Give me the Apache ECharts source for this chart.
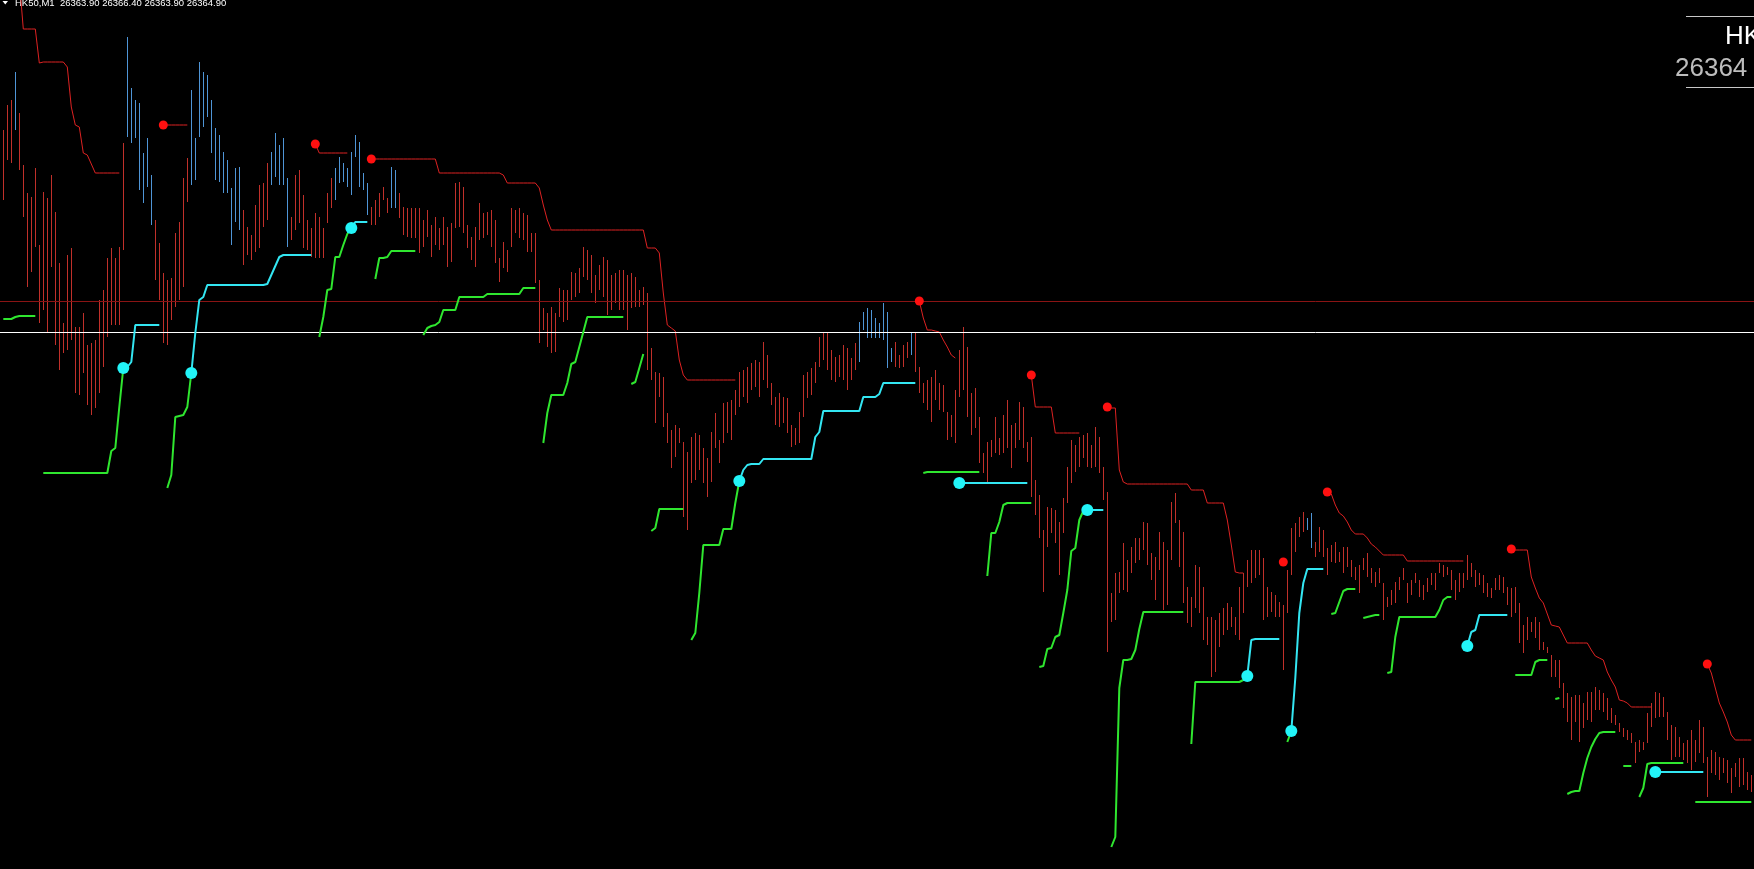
<!DOCTYPE html>
<html>
<head>
<meta charset="utf-8">
<script src="https://cdn.jsdelivr.net/npm/echarts@6/dist/echarts.min.js"></script>
<style>
html,body{margin:0;padding:0;background:#000;}
#c{width:1754px;height:869px;}
</style>
</head>
<body>
<div id="c"></div>
<script>
// ---- HK50, M1 bars (high / low) ----
const barHigh = [
26387.0,26389.5,26390.0,26392.8,26388.7,26383.5,26380.7,26380.3,26383.2,26375.5,
26380.8,26380.2,26382.5,26378.8,26373.7,26367.7,26374.5,26375.2,26367.3,26367.3,
26368.7,26365.5,26365.7,26366.0,26370.0,26371.0,26374.2,26375.2,26374.2,26375.3,
26385.7,26396.3,26391.2,26390.0,26389.7,26384.7,26386.2,26382.5,26378.0,26375.7,
26372.7,26372.0,26372.2,26376.7,26377.8,26382.2,26384.2,26391.0,26386.2,26393.8,
26392.8,26392.5,26390.0,26387.2,26386.5,26384.8,26384.0,26381.2,26383.2,26383.3,
26379.0,26377.3,26376.5,26379.5,26381.5,26381.7,26383.7,26384.8,26386.7,26385.5,
26386.2,26382.2,26378.3,26382.5,26383.0,26380.5,26378.0,26377.2,26378.7,26378.3,
26377.2,26380.7,26382.2,26383.2,26384.3,26383.7,26383.2,26384.8,26386.5,26385.8,
26382.7,26381.7,26379.3,26380.0,26380.7,26381.3,26380.2,26383.3,26383.0,26380.7,
26379.3,26379.2,26379.2,26379.2,26379.2,26378.0,26379.0,26377.5,26378.3,26377.2,
26378.3,26377.3,26377.7,26381.7,26381.8,26381.3,26377.5,26376.3,26377.3,26379.7,
26378.7,26378.8,26379.0,26378.0,26374.2,26375.8,26375.0,26379.2,26379.0,26379.2,
26378.7,26378.5,26376.7,26376.7,26372.0,26369.2,26368.7,26369.3,26368.7,26371.2,
26371.0,26371.0,26372.8,26372.7,26373.2,26375.3,26375.0,26374.5,26372.5,26373.5,
26374.3,26374.0,26372.5,26372.7,26373.0,26373.0,26372.5,26372.7,26372.3,26371.0,
26371.3,26370.7,26365.2,26362.8,26362.7,26362.3,26358.7,26357.0,26357.5,26357.2,
26355.8,26354.8,26356.3,26356.7,26356.5,26355.2,26354.2,26356.8,26358.7,26356.0,
26359.7,26359.8,26360.0,26361.0,26362.8,26363.0,26363.3,26363.7,26364.0,26363.8,
26365.8,26364.5,26361.7,26360.3,26360.7,26360.3,26360.2,26357.5,26357.2,26358.8,
26362.5,26362.8,26363.2,26363.8,26366.3,26366.7,26366.8,26365.0,26364.3,26364.5,
26365.5,26365.2,26364.2,26365.7,26367.8,26368.8,26369.2,26369.0,26368.2,26367.7,
26369.7,26368.8,26365.2,26365.8,26364.5,26365.5,26365.8,26366.7,26366.7,26363.3,
26361.7,26362.0,26362.3,26363.0,26361.7,26361.5,26358.8,26358.5,26361.0,26365.0,
26367.3,26365.3,26360.7,26361.2,26358.3,26354.7,26355.8,26356.0,26358.3,26356.2,
26358.5,26360.0,26357.5,26357.7,26359.8,26359.3,26355.8,26356.3,26352.0,26350.5,
26347.0,26349.3,26349.2,26349.0,26347.8,26350.2,26353.3,26356.0,26355.5,26356.3,
26356.5,26356.7,26355.5,26357.3,26356.3,26353.3,26350.8,26340.7,26342.7,26342.8,
26345.7,26344.0,26345.3,26346.2,26346.2,26347.8,26347.7,26344.7,26344.3,26346.8,
26345.8,26345.0,26349.8,26350.7,26348.0,26346.8,26341.3,26340.3,26343.5,26343.3,
26341.3,26338.3,26338.3,26338.0,26338.7,26339.2,26339.7,26339.3,26338.3,26341.3,
26342.7,26344.0,26345.0,26345.0,26345.0,26344.2,26341.3,26340.8,26340.5,26339.8,
26339.5,26343.0,26347.2,26347.7,26348.3,26348.8,26348.2,26348.7,26345.8,26347.3,
26347.0,26345.2,26345.5,26345.8,26344.8,26345.3,26345.3,26344.0,26343.3,26343.5,
26344.2,26344.7,26343.2,26342.8,26343.2,26341.7,26340.3,26341.0,26341.8,26342.3,
26343.2,26341.7,26342.0,26342.7,26342.0,26341.5,26342.2,26342.7,26342.7,26343.7,
26343.5,26343.3,26343.0,26342.0,26342.7,26342.7,26344.5,26343.7,26343.0,26342.7,
26342.5,26341.7,26341.2,26342.2,26342.5,26342.3,26341.3,26341.2,26341.3,26339.7,
26337.5,26338.3,26337.8,26338.3,26337.8,26335.8,26335.3,26334.5,26334.0,26334.0,
26331.7,26330.7,26330.3,26330.5,26330.5,26329.7,26330.8,26330.8,26331.3,26331.0,
26330.7,26330.2,26329.2,26328.5,26327.7,26327.2,26327.0,26326.7,26325.8,26326.0,
26325.8,26328.7,26329.7,26330.8,26330.7,26330.3,26328.8,26327.5,26327.3,26326.3,
26325.7,26326.0,26327.0,26326.0,26328.0,26327.3,26324.3,26325.0,26324.8,26324.3,
26324.2,26324.0,26323.2,26323.7,26324.2,26324.2,26322.8,26322.5
];
const barLow = [
26380.0,26384.0,26383.7,26387.0,26383.0,26378.3,26371.3,26372.8,26375.3,26367.7,
26369.0,26366.7,26373.3,26365.5,26363.0,26364.7,26365.0,26366.0,26360.7,26360.5,
26362.7,26359.5,26358.5,26359.2,26360.7,26363.3,26366.3,26367.5,26367.5,26367.5,
26375.0,26386.3,26385.7,26386.2,26381.0,26379.7,26381.3,26377.5,26372.0,26370.0,
26365.7,26365.5,26368.0,26369.3,26370.0,26371.3,26379.8,26381.5,26382.0,26386.3,
26387.3,26388.3,26384.7,26382.0,26381.8,26380.7,26380.7,26375.5,26377.8,26377.0,
26373.5,26374.5,26374.0,26374.8,26375.2,26377.3,26378.0,26381.5,26382.3,26381.5,
26381.5,26375.3,26376.0,26377.0,26377.7,26375.2,26375.0,26374.3,26374.2,26374.2,
26374.2,26377.7,26379.2,26380.0,26381.7,26381.8,26381.3,26380.5,26384.3,26381.3,
26381.0,26378.5,26377.5,26377.5,26378.3,26380.0,26378.7,26379.2,26379.2,26378.2,
26376.5,26376.3,26376.2,26376.2,26374.7,26375.3,26376.3,26374.3,26375.5,26375.0,
26375.5,26373.3,26373.8,26377.2,26377.3,26376.7,26375.2,26374.0,26373.3,26376.0,
26376.2,26376.5,26375.3,26373.7,26371.8,26373.2,26372.8,26375.3,26376.7,26376.2,
26376.0,26374.8,26374.8,26371.7,26365.7,26367.0,26365.3,26364.7,26364.8,26368.3,
26367.8,26368.0,26370.0,26370.3,26370.7,26372.3,26372.0,26370.7,26369.7,26371.0,
26370.3,26368.5,26369.0,26369.7,26369.0,26369.0,26367.0,26369.2,26369.3,26369.3,
26369.5,26363.0,26362.0,26357.7,26360.3,26357.3,26355.7,26353.2,26354.3,26355.7,
26348.3,26347.0,26351.7,26352.0,26353.0,26351.7,26350.3,26351.8,26355.2,26353.7,
26355.7,26356.7,26356.0,26358.5,26359.3,26360.3,26359.7,26361.0,26361.3,26360.3,
26362.0,26361.2,26359.5,26357.5,26357.3,26357.7,26356.7,26355.3,26355.5,26355.7,
26358.3,26360.2,26360.5,26361.7,26363.3,26364.0,26363.0,26362.0,26361.8,26362.3,
26362.0,26361.0,26362.0,26363.0,26363.8,26367.0,26366.2,26366.2,26366.2,26366.2,
26366.0,26363.2,26363.8,26363.3,26363.2,26363.3,26364.2,26364.5,26362.8,26360.7,
26359.7,26359.0,26357.8,26360.0,26359.0,26358.8,26356.0,26356.3,26355.7,26360.3,
26361.0,26358.3,26356.5,26357.2,26353.7,26352.7,26351.8,26354.3,26354.7,26354.5,
26354.7,26355.2,26353.2,26355.2,26356.0,26355.2,26353.8,26350.3,26348.5,26346.2,
26340.8,26345.3,26346.7,26345.7,26342.5,26346.7,26349.7,26351.7,26352.8,26353.3,
26354.2,26353.3,26353.2,26353.3,26352.7,26350.0,26334.8,26337.8,26338.0,26340.7,
26341.0,26340.8,26342.7,26343.7,26344.0,26345.0,26343.5,26342.0,26340.0,26343.0,
26339.0,26339.5,26344.0,26347.7,26343.3,26339.7,26337.7,26337.3,26339.2,26338.7,
26336.0,26335.5,26332.3,26332.8,26335.3,26336.5,26337.0,26337.3,26336.5,26336.0,
26338.7,26341.3,26341.7,26342.2,26342.5,26338.0,26338.3,26338.8,26338.3,26338.3,
26333.0,26338.7,26342.5,26344.8,26346.3,26346.8,26347.0,26345.2,26344.3,26344.8,
26344.3,26342.5,26343.8,26343.7,26343.8,26342.7,26343.3,26342.3,26342.0,26340.7,
26343.0,26342.3,26341.7,26341.3,26341.7,26338.0,26339.3,26339.5,26339.7,26341.0,
26342.0,26339.7,26340.5,26341.7,26340.3,26340.0,26340.8,26341.5,26341.0,26342.7,
26342.3,26342.5,26341.0,26340.0,26340.8,26341.2,26342.0,26342.3,26341.3,26341.5,
26340.7,26340.3,26340.2,26341.0,26341.0,26340.7,26339.5,26338.3,26338.7,26335.7,
26334.7,26336.0,26336.8,26336.2,26335.0,26335.0,26334.7,26332.3,26332.3,26331.2,
26329.2,26327.8,26326.0,26327.8,26325.8,26327.2,26328.0,26327.8,26329.0,26329.0,
26328.8,26328.0,26327.7,26327.5,26326.8,26326.3,26326.0,26325.7,26323.7,26324.8,
26325.0,26325.7,26327.3,26328.2,26328.3,26328.3,26326.0,26324.0,26324.3,26324.3,
26324.0,26323.7,26323.0,26323.8,26324.7,26323.7,26320.3,26322.7,26322.5,26322.0,
26322.7,26321.7,26320.7,26322.3,26321.3,26321.5,26321.0,26320.8
];
// indices of rising (blue) bars
const upBars = [3,31,32,33,34,35,36,37,47,48,49,50,51,52,53,54,55,56,57,58,59,
67,68,69,70,71,83,84,85,86,87,88,89,90,91,97,98,214,215,216,217,218,219,220,221,222,227,326,327];

// trailing stop lines: [first bar index, values...]
const redStop = [
[4,26402.0,26397.1,26397.1,26397.1,26397.1,26393.7,26393.8,26393.8,26393.8,26393.8,26393.8,26393.8,26393.3,26389.3,26387.5,26387.3,26384.7,26384.5,26383.6,26382.7,26382.7,26382.7,26382.7,26382.7,26382.7,26382.7],
[40,26387.5,26387.5,26387.5,26387.5,26387.5,26387.5,26387.5],
[78,26385.6,26384.7,26384.7,26384.7,26384.7,26384.7,26384.7,26384.7,26384.7],
[92,26384.1,26384.1,26384.1,26384.1,26384.1,26384.1,26384.1,26384.1,26384.1,26384.1,26384.1,26384.1,26384.1,26384.1,26384.1,26384.1,26384.1,
 26382.7,26382.7,26382.7,26382.7,26382.7,26382.7,26382.7,26382.7,26382.7,26382.7,26382.7,26382.7,26382.7,26382.7,26382.7,26382.7,
 26382.5,26381.7,26381.7,26381.7,26381.7,26381.7,26381.7,26381.7,26381.7,26381.2,26379.5,26378.0,
 26377.0,26377.0,26377.0,26377.0,26377.0,26377.0,26377.0,26377.0,26377.0,26377.0,26377.0,26377.0,
 26377.0,26377.0,26377.0,26377.0,26377.0,26377.0,26377.0,26377.0,26377.0,26377.0,26377.0,26377.0,
 26375.2,26375.2,26375.2,26374.7,26370.7,26367.5,26367.2,26366.9,26364.0,26362.5,
 26362.0,26362.0,26362.0,26362.0,26362.0,26362.0,26362.0,26362.0,26362.0,26362.0,26362.0,26362.0,26362.0],
[229,26369.9,26368.2,26367.0,26367.0,26366.9,26366.8,26366.0,26365.3,26364.5,26364.2],
[257,26362.5,26359.3,26359.3,26359.3,26359.3,26359.3,26356.7,26356.7,26356.7,26356.7,26356.7,26356.7,26356.7],
[276,26359.3,26359.2,26359.2,26353.0,26351.8,
 26351.6,26351.6,26351.6,26351.6,26351.6,26351.6,26351.6,26351.6,26351.6,26351.6,26351.6,26351.6,26351.6,26351.6,26351.6,26351.6,
 26351.0,26351.0,26351.0,26351.0,26349.7,26349.7,26349.7,26349.7,26349.7,26348.0,26345.5,26342.8,26342.7,26342.7],
[331,26350.8,26350.6,26349.5,26348.7,26348.4,26347.8,26347.0,26346.6,26346.6,26346.6,26346.2,26345.6,26345.3,26344.9,
 26344.5,26344.5,26344.5,26344.5,26344.5,26344.5,
 26343.9,26343.9,26343.9,26343.9,26343.9,26343.9,26343.9,26343.9,26343.9,26343.9,26343.9,26343.9,26343.9,26343.9,26343.9],
[377,26345.1,26345.0,26345.0,26345.0,26345.0,26342.3,26341.2,26340.2,26339.7,26338.6,26337.5,26337.4,26337.3,26336.5,
 26335.7,26335.7,26335.7,26335.7,26335.7,26335.7,26335.0,26334.4,26334.2,26334.0,26332.8,26332.0,26331.3,26330.0,26329.9,26329.7,
 26329.3,26329.3,26329.3,26329.3,26329.3,26329.3],
[426,26333.6,26332.7,26331.2,26329.7,26328.8,26327.8,26326.5,26326.0,26326.0,26326.0,26326.0,26326.0]
];
const redDots = [[40,26387.5],[78,26385.6],[92,26384.1],[229,26369.9],[257,26362.5],[276,26359.3],[320,26343.8],[331,26350.8],[377,26345.1],[426,26333.6]];

const cyanLine = [
[30,26363.2,26363.3,26363.8,26367.5,26367.5,26367.5,26367.5,26367.5,26367.5,26367.5],
[47,26362.7,26366.7,26370.0,26370.3,26371.5,26371.5,26371.5,26371.5,26371.5,26371.5,26371.5,26371.5,26371.5,26371.5,26371.5,26371.5,26371.5,26371.5,26371.5,
 26371.6,26372.5,26373.4,26374.3,26374.5,26374.5,26374.5,26374.5,26374.5,26374.5,26374.5,26374.5],
[87,26377.2,26377.8,26377.8,26377.8,26377.8],
[184,26351.9,26353.0,26353.5,26353.6,26353.6,26353.6,
 26354.1,26354.1,26354.1,26354.1,26354.1,26354.1,26354.1,26354.1,26354.1,26354.1,26354.1,26354.1,26354.1,
 26356.3,26356.8,26358.9,26358.9,26358.9,26358.9,26358.9,26358.9,26358.9,26358.9,26358.9,26358.9,
 26360.3,26360.3,26360.3,26360.3,26360.6,26361.7,26361.7,26361.7,26361.7,26361.7,26361.7,26361.7,26361.7,26361.7],
[239,26351.7,26351.7,26351.7,26351.7,26351.7,26351.7,26351.7,26351.7,26351.7,26351.7,26351.7,26351.7,26351.7,26351.7,26351.7,26351.7,26351.7,26351.7],
[271,26349.0,26349.0,26349.0,26349.0,26349.0],
[311,26332.4,26336.0,26336.1,26336.1,26336.1,26336.1,26336.1,26336.1,26336.1],
[322,26326.9,26332.2,26338.7,26341.7,26343.1,26343.1,26343.1,26343.1,26343.1],
[366,26335.4,26336.8,26337.0,26338.5,26338.5,26338.5,26338.5,26338.5,26338.5,26338.5,26338.5],
[413,26322.8,26322.8,26322.8,26322.8,26322.8,26322.8,26322.8,26322.8,26322.8,26322.8,26322.8,26322.8,26322.8]
];
const cyanDots = [[30,26363.2],[47,26362.7],[87,26377.2],[184,26351.9],[239,26351.7],[271,26349.0],[311,26332.4],[322,26326.9],[366,26335.4],[413,26322.8]];

const greenLine = [
[0,26368.1,26368.1,26368.1,26368.3,26368.4,26368.4,26368.4,26368.4,26368.4],
[10,26352.7,26352.7,26352.7,26352.7,26352.7,26352.7,26352.7,26352.7,26352.7,26352.7,26352.7,26352.7,26352.7,26352.7,26352.7,26352.7,26352.7,26354.9,26355.2,26359.3,26363.2],
[41,26351.2,26352.5,26358.3,26358.4,26358.5,26359.3,26362.7],
[79,26366.3,26368.3,26371.0,26371.1,26374.3,26374.3,26375.5,26376.6,26377.2],
[93,26372.1,26374.2,26374.2,26374.3,26374.9,26374.9,26374.9,26374.9,26374.9,26374.9,26374.9],
[105,26366.5,26367.2,26367.4,26367.5,26367.8,26369.0,26369.0,26369.0,26369.0,26370.3,26370.3,26370.3,26370.3,26370.3,26370.3,26370.3,
 26370.6,26370.6,26370.6,26370.6,26370.6,26370.6,26370.6,26370.6,26370.6,26371.2,26371.2,26371.2,26371.2],
[135,26355.7,26358.7,26360.5,26360.5,26360.5,26360.5,26361.7,26363.6,26363.8,26365.3,26366.8,
 26368.3,26368.3,26368.3,26368.3,26368.3,26368.3,26368.3,26368.3,26368.3,26368.3],
[157,26361.6,26361.8,26363.2,26364.6],
[162,26346.9,26347.2,26349.1,26349.1,26349.1,26349.1,26349.1,26349.1,26349.1],
[172,26336.0,26336.7,26340.7,26345.5,26345.5,26345.5,26345.5,26345.5,26347.1,26347.1,26347.1,26349.7,26351.9],
[230,26352.7,26352.8,26352.8,26352.8,26352.8,26352.8,26352.8,26352.8,26352.8,26352.8,26352.8,26352.8,26352.8,26352.8,26352.8],
[246,26342.4,26346.7,26346.7,26347.8,26349.5,26349.7,26349.7,26349.7,26349.7,26349.7,26349.7,26349.7],
[259,26333.3,26333.4,26335.1,26335.2,26336.3,26336.5,26338.7,26341.0,26344.9,26345.2,26348.0,26348.9,26349.0],
[277,26315.3,26316.3,26331.2,26334.0,26334.0,26334.1,26335.0,26337.1,
 26338.8,26338.8,26338.8,26338.8,26338.8,26338.8,26338.8,26338.8,26338.8,26338.8,26338.8],
[297,26325.6,26331.8,26331.8,26331.8,26331.8,26331.8,26331.8,26331.8,26331.8,26331.8,26331.8,26331.8,26331.8,26332.0,26332.4],
[321,26325.8,26326.9],
[332,26338.6,26338.7,26339.8,26340.9,26341.1,26341.1,26341.1],
[340,26338.2,26338.3,26338.4,26338.5,26338.5],
[346,26332.7,26332.8,26336.3,26338.3,26338.3,26338.3,26338.3,26338.3,26338.3,26338.3,26338.3,26338.3,26338.3,26339.0,26340.0,26340.3,26340.3],
[378,26332.5,26332.5,26332.5,26332.5,26332.5,26333.8,26334.0,26334.0,26334.0],
[388,26330.1,26330.2],
[391,26320.6,26320.8,26320.9,26320.9,26322.7,26324.2,26325.3,26326.1,26326.7,26326.8,26326.8,26326.8,26326.8],
[405,26323.4,26323.4,26323.4],
[409,26320.3,26321.2,26323.6,26323.7,26323.7,26323.7,26323.7,26323.7,26323.7,26323.7,26323.7,26323.7],
[423,26319.8,26319.8,26319.8,26319.8,26319.8,26319.8,26319.8,26319.8,26319.8,26319.8,26319.8,26319.8,26319.8,26319.8,26319.8]
];

const levelPrice = 26369.9;   // dark red horizontal level
const bidPrice = 26366.8;     // white bid line
const headerText = 'HK50,M1  26363.90 26366.40 26363.90 26364.90';
const symbolLabel = 'HK50';
const priceLabel = '26364';

// ---- drawing ----
const RED_BAR = '#c0302a', BLUE_BAR = '#4f95d6', RED_LINE = '#dd2222', GREEN = '#2fe62f', CYAN = '#33e6f2';
const upSet = new Set(upBars);
const barData = barHigh.map((h, i) => [i, barLow[i], h, upSet.has(i) ? 1 : 0]);
function segData(seg) { const s = seg[0]; return seg.slice(1).map((v, k) => [s + k, v]); }

const series = [];
series.push({
  type: 'custom', data: barData, z: 2, silent: true, animation: false,
  encode: { x: 0, y: [1, 2] },
  renderItem: function (params, api) {
    const i = api.value(0);
    const lo = api.coord([i, api.value(1)]);
    const hi = api.coord([i, api.value(2)]);
    const x = Math.round(lo[0] - 0.5) + 0.5;
    return { type: 'line', shape: { x1: x, y1: lo[1], x2: x, y2: hi[1] },
      style: { stroke: api.value(3) ? BLUE_BAR : RED_BAR, lineWidth: 1 } };
  }
});
series.push({
  type: 'line', data: [], z: 3, silent: true, animation: false,
  markLine: { symbol: 'none', silent: true, animation: false, label: { show: false },
    data: [
      { yAxis: levelPrice, lineStyle: { color: '#8a1414', width: 1, type: 'solid' } },
      { yAxis: bidPrice, lineStyle: { color: '#ffffff', width: 1, type: 'solid' } }
    ] }
});
redStop.forEach(seg => series.push({ type: 'line', data: segData(seg), symbol: 'none', z: 4, silent: true, animation: false,
  lineStyle: { color: RED_LINE, width: 1 } }));
greenLine.forEach(seg => series.push({ type: 'line', data: segData(seg), symbol: 'none', z: 5, silent: true, animation: false,
  lineStyle: { color: GREEN, width: 2 } }));
cyanLine.forEach(seg => series.push({ type: 'line', data: segData(seg), symbol: 'none', z: 6, silent: true, animation: false,
  lineStyle: { color: CYAN, width: 2 } }));
series.push({ type: 'scatter', data: redDots, symbolSize: 9, z: 7, silent: true, animation: false,
  itemStyle: { color: '#ff1010', opacity: 1 } });
series.push({ type: 'scatter', data: cyanDots, symbolSize: 12, z: 7, silent: true, animation: false,
  itemStyle: { color: '#22f4f8', opacity: 1 } });

const chart = echarts.init(document.getElementById('c'));
chart.setOption({
  backgroundColor: '#000000',
  animation: false,
  grid: { left: 0, right: 0, top: 0, bottom: 0 },
  xAxis: { type: 'value', min: -0.825, max: 437.675, show: false },
  yAxis: { type: 'value', min: 26313.1, max: 26400.0, show: false },
  series: series,
  graphic: [
    { type: 'polygon', shape: { points: [[2.5, 1], [8, 1], [5.25, 4.5]] }, style: { fill: '#ffffff' } },
    { type: 'text', x: 15, y: 3, style: { text: headerText, fill: '#ffffff', font: '9.5px "Liberation Sans"', verticalAlign: 'middle' } },
    { type: 'line', shape: { x1: 1686, y1: 16.5, x2: 1754, y2: 16.5 }, style: { stroke: '#c8c8c8', lineWidth: 1 } },
    { type: 'line', shape: { x1: 1686, y1: 87.5, x2: 1754, y2: 87.5 }, style: { stroke: '#c8c8c8', lineWidth: 1 } },
    { type: 'text', x: 1725, y: 37, style: { text: symbolLabel, fill: '#ffffff', font: '26px "Liberation Sans"', verticalAlign: 'middle' } },
    { type: 'text', x: 1675, y: 69, style: { text: priceLabel, fill: '#bdbdbd', font: '26px "Liberation Sans"', verticalAlign: 'middle' } }
  ]
});
</script>
</body>
</html>
